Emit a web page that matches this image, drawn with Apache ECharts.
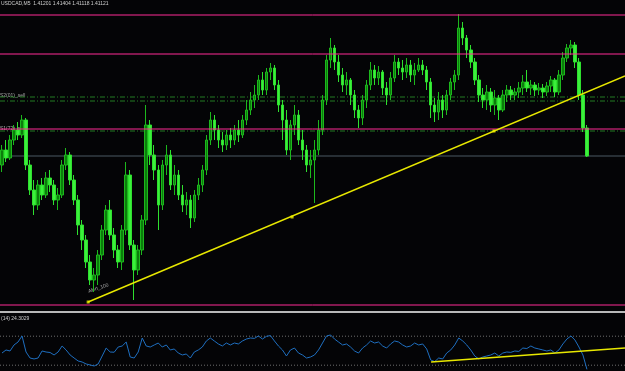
<!DOCTYPE html>
<html><head><meta charset="utf-8">
<script src="https://cdn.jsdelivr.net/npm/echarts@6/dist/echarts.min.js"></script>
<style>html,body{margin:0;padding:0;background:#040406;}#c{width:625px;height:371px;}</style>
</head><body><div id="c"></div><script>
// Candles (price), one per 5-minute bar
const opens = [1.4105,1.4120,1.4112,1.4130,1.4140,1.4135,1.4150,1.4105,1.4080,1.4065,1.4085,1.4075,1.4092,1.4085,1.4070,1.4075,1.4105,1.4115,1.4090,1.4070,
1.4045,1.4030,1.4008,1.3990,1.3995,1.4015,1.4040,1.4060,1.4035,1.4020,1.4008,1.4040,1.4095,1.4025,1.4000,1.4020,1.4050,1.4145,1.4115,1.4100,
1.4065,1.4105,1.4115,1.4085,1.4095,1.4075,1.4065,1.4070,1.4052,1.4075,1.4085,1.4100,1.4130,1.4150,1.4140,1.4130,1.4125,1.4135,1.4130,1.4140,
1.4135,1.4150,1.4160,1.4170,1.4175,1.4190,1.4180,1.4198,1.4202,1.4185,1.4165,1.4150,1.4120,1.4145,1.4155,1.4130,1.4120,1.4105,1.4110,1.4120,
1.4140,1.4170,1.4210,1.4222,1.4208,1.4195,1.4185,1.4190,1.4175,1.4160,1.4152,1.4170,1.4185,1.4200,1.4192,1.4198,1.4182,1.4175,1.4192,1.4208,
1.4202,1.4198,1.4205,1.4195,1.4200,1.4205,1.4200,1.4188,1.4165,1.4158,1.4170,1.4160,1.4175,1.4188,1.4195,1.4242,1.4232,1.4220,1.4208,1.4190,
1.4175,1.4170,1.4178,1.4165,1.4172,1.4160,1.4175,1.4180,1.4175,1.4178,1.4182,1.4188,1.4182,1.4185,1.4180,1.4182,1.4178,1.4184,1.4190,1.4178,
1.4195,1.4212,1.4222,1.4225,1.4208,1.4175,1.4142];
const closes = [1.4120,1.4112,1.4130,1.4140,1.4135,1.4150,1.4105,1.4080,1.4065,1.4085,1.4075,1.4092,1.4085,1.4070,1.4075,1.4105,1.4115,1.4090,1.4070,1.4045,
1.4030,1.4008,1.3990,1.3995,1.4015,1.4040,1.4060,1.4035,1.4020,1.4008,1.4040,1.4095,1.4025,1.4000,1.4020,1.4050,1.4145,1.4115,1.4100,1.4065,
1.4105,1.4115,1.4085,1.4095,1.4075,1.4065,1.4070,1.4052,1.4075,1.4085,1.4100,1.4130,1.4150,1.4140,1.4130,1.4125,1.4135,1.4130,1.4140,1.4135,
1.4150,1.4160,1.4170,1.4175,1.4190,1.4180,1.4198,1.4202,1.4185,1.4165,1.4150,1.4120,1.4145,1.4155,1.4130,1.4120,1.4105,1.4110,1.4120,1.4140,
1.4170,1.4210,1.4222,1.4208,1.4195,1.4185,1.4190,1.4175,1.4160,1.4152,1.4170,1.4185,1.4200,1.4192,1.4198,1.4182,1.4175,1.4192,1.4208,1.4202,
1.4198,1.4205,1.4195,1.4200,1.4205,1.4200,1.4188,1.4165,1.4158,1.4170,1.4160,1.4175,1.4188,1.4195,1.4242,1.4232,1.4220,1.4208,1.4190,1.4175,
1.4170,1.4178,1.4165,1.4172,1.4160,1.4175,1.4180,1.4175,1.4178,1.4182,1.4188,1.4182,1.4185,1.4180,1.4182,1.4178,1.4184,1.4190,1.4178,1.4195,
1.4212,1.4222,1.4225,1.4208,1.4175,1.4142,1.4114];
const lows = [1.4098,1.4108,1.4110,1.4125,1.4130,1.4132,1.4100,1.4075,1.4055,1.4060,1.4070,1.4072,1.4078,1.4065,1.4060,1.4072,1.4100,1.4085,1.4065,1.4035,
1.4020,1.4002,1.3985,1.3978,1.3985,1.4010,1.4035,1.4030,1.4012,1.4002,1.4000,1.4035,1.4020,1.3970,1.3995,1.4015,1.4045,1.4105,1.4090,1.4040,
1.4060,1.4095,1.4080,1.4075,1.4070,1.4058,1.4055,1.4042,1.4048,1.4070,1.4078,1.4095,1.4125,1.4130,1.4122,1.4118,1.4120,1.4122,1.4125,1.4128,
1.4132,1.4145,1.4155,1.4162,1.4170,1.4175,1.4175,1.4190,1.4180,1.4158,1.4130,1.4115,1.4110,1.4135,1.4125,1.4110,1.4098,1.4092,1.4067,1.4115,
1.4135,1.4165,1.4202,1.4200,1.4188,1.4178,1.4175,1.4165,1.4152,1.4142,1.4145,1.4162,1.4180,1.4185,1.4185,1.4175,1.4165,1.4170,1.4188,1.4195,
1.4190,1.4192,1.4188,1.4185,1.4198,1.4195,1.4180,1.4152,1.4148,1.4150,1.4152,1.4155,1.4170,1.4180,1.4190,1.4225,1.4212,1.4202,1.4185,1.4168,
1.4162,1.4160,1.4158,1.4155,1.4150,1.4158,1.4168,1.4170,1.4170,1.4172,1.4175,1.4178,1.4175,1.4174,1.4175,1.4172,1.4174,1.4178,1.4173,1.4175,
1.4190,1.4208,1.4215,1.4202,1.4170,1.4138,1.4113];
const highs = [1.4125,1.4130,1.4135,1.4145,1.4148,1.4155,1.4152,1.4110,1.4090,1.4090,1.4092,1.4098,1.4100,1.4090,1.4082,1.4110,1.4122,1.4118,1.4095,1.4075,
1.4050,1.4035,1.4015,1.4002,1.4020,1.4045,1.4065,1.4070,1.4042,1.4025,1.4045,1.4108,1.4100,1.4030,1.4025,1.4055,1.4165,1.4150,1.4125,1.4105,
1.4110,1.4125,1.4120,1.4105,1.4100,1.4085,1.4078,1.4075,1.4080,1.4092,1.4105,1.4135,1.4158,1.4155,1.4145,1.4138,1.4140,1.4142,1.4145,1.4150,
1.4155,1.4170,1.4178,1.4185,1.4195,1.4198,1.4202,1.4207,1.4205,1.4190,1.4170,1.4160,1.4150,1.4165,1.4160,1.4140,1.4125,1.4120,1.4130,1.4150,
1.4175,1.4215,1.4232,1.4225,1.4215,1.4202,1.4198,1.4192,1.4180,1.4165,1.4175,1.4190,1.4208,1.4205,1.4204,1.4200,1.4188,1.4198,1.4215,1.4212,
1.4210,1.4212,1.4210,1.4207,1.4212,1.4210,1.4204,1.4192,1.4172,1.4178,1.4175,1.4180,1.4192,1.4200,1.4256,1.4248,1.4235,1.4225,1.4212,1.4195,
1.4182,1.4185,1.4182,1.4180,1.4175,1.4180,1.4185,1.4184,1.4182,1.4188,1.4195,1.4200,1.4190,1.4188,1.4187,1.4186,1.4188,1.4194,1.4192,1.4200,
1.4218,1.4226,1.4230,1.4228,1.4212,1.4180,1.4145];
// RSI(14) per bar
const rsiValues = [46.8,51.0,49.6,57.9,62.0,70.3,48.2,39.9,38.6,39.9,49.6,48.2,47.5,44.1,48.2,56.5,51.0,44.1,39.9,35.8,
34.4,31.7,30.3,28.9,31.7,42.7,53.7,48.2,47.9,55.1,56.5,62.0,41.3,39.9,48.2,67.5,56.5,55.1,57.9,60.6,
55.1,57.9,51.0,52.4,46.8,44.1,45.5,39.9,48.2,51.0,55.1,63.4,67.5,63.4,59.3,56.5,60.6,57.9,60.6,59.3,
63.4,66.1,67.5,67.0,70.3,66.1,69.8,70.9,63.4,56.5,51.0,42.7,51.0,53.7,46.8,44.1,39.9,41.3,44.1,51.0,
60.6,70.3,71.7,66.1,62.0,57.9,59.3,55.1,49.6,46.8,53.7,57.9,63.4,60.6,62.0,56.5,53.7,59.3,63.4,62.0,
57.9,55.1,56.5,60.6,57.9,59.3,52.4,37.2,35.0,39.9,38.6,46.8,51.0,57.9,67.5,63.4,57.9,51.0,42.7,38.6,
41.3,42.7,44.1,46.8,42.7,46.8,48.2,47.7,49.6,49.0,53.7,53.0,56.5,53.7,52.4,51.0,49.6,51.0,46.8,51.0,
59.3,66.1,70.3,64.8,55.1,44.1,24.3];
const slotCount = 156;
const categories = Array.from({length: slotCount}, (_, i) => 'bar ' + i);
// Horizontal levels
const magentaLevels = [1.4255, 1.4216, 1.4141, 1.3965];
const greenLevels = [1.4173, 1.4169, 1.4139];
const bidLevel = 1.4114;
const rsiLevels = [70, 30];
// Trend lines (bar index, value)
const trendLine = [[21.5, 1.3968], [155.5, 1.4194]];
const trendAnchors = [[21.5, 1.3968], [72.4, 1.4053], [122.8, 1.4139]];
const rsiTrend = [[107.1, 34.4], [155.5, 53.7]];

const candleData = opens.map((o, i) => [o, closes[i], lows[i], highs[i]]);
const rsiData = rsiValues.map((v, i) => [i, v]);
const xLo = -0.5, xHi = slotCount - 0.5;
const hline = (v, xAxisIndex, yAxisIndex, color, type, z) => ({
  type: 'line', xAxisIndex, yAxisIndex, data: [[xLo, v], [xHi, v]], symbol: 'none', silent: true,
  lineStyle: {color, width: 1, type}, z: z || 1
});

const chart = echarts.init(document.getElementById('c'), null, {renderer: 'canvas'});
const txt = (x, y, s, fill) => ({type: 'text', left: x, top: y, silent: true,
  style: {text: s, fill: fill || '#cfcfcf', font: '5px "Liberation Sans"'}});
chart.setOption({
  animation: false,
  backgroundColor: '#040406',
  grid: [{left: 0, right: 0, top: 0, height: 308}, {left: 0, right: 0, top: 313, height: 58}],
  xAxis: [
    {type: 'category', gridIndex: 0, data: categories, show: false, boundaryGap: true},
    {type: 'value', gridIndex: 0, min: xLo, max: xHi, show: false, splitLine: {show: false}},
    {type: 'value', gridIndex: 1, min: xLo, max: xHi, show: false, splitLine: {show: false}}
  ],
  yAxis: [
    {type: 'value', gridIndex: 0, min: 1.3962, max: 1.4270, show: false, splitLine: {show: false}},
    {type: 'value', gridIndex: 1, min: 22, max: 102, show: false, splitLine: {show: false}}
  ],
  series: [
    ...magentaLevels.map(v => hline(v, 1, 0, '#ff2a95', 'solid', 3)),
    ...greenLevels.map(v => hline(v, 1, 0, '#237a23', [5, 2, 1, 2], 1)),
    hline(bidLevel, 1, 0, '#4a5862', 'solid', 1),
    ...rsiLevels.map(v => hline(v, 2, 1, '#6e6e6e', [1, 2], 1)),
    {type: 'candlestick', xAxisIndex: 0, yAxisIndex: 0, data: candleData, barWidth: 3, z: 2,
      itemStyle: {color: '#0b7d0b', color0: '#3cf03c', borderColor: '#1cb81c', borderColor0: '#2ee02e', borderWidth: 1}
    },
    {type: 'line', xAxisIndex: 1, yAxisIndex: 0, data: trendLine, symbol: 'none',
      lineStyle: {color: '#e8e800', width: 1.5}, z: 5},
    {type: 'scatter', xAxisIndex: 1, yAxisIndex: 0, data: trendAnchors, symbol: 'rect', symbolSize: 3,
      itemStyle: {color: '#f0f000'}, z: 6},
    {type: 'line', xAxisIndex: 2, yAxisIndex: 1, data: rsiData, symbol: 'none', z: 2,
      lineStyle: {color: '#1f6fc0', width: 1}},
    {type: 'line', xAxisIndex: 2, yAxisIndex: 1, data: rsiTrend, symbol: 'none',
      lineStyle: {color: '#e8e800', width: 1.5}, z: 5}
  ],
  graphic: [
    {type: 'rect', left: 0, top: 311, silent: true, shape: {width: 625, height: 2}, style: {fill: '#b8b8b8'}},
    txt(1, 1, 'USDCAD,M5  1.41201 1.41404 1.41118 1.41121'),
    txt(0, 93, 'S2(01)_sell', '#a8a8a8'),
    txt(0, 126, 'S1(72)_sell', '#a8a8a8'),
    txt(1, 316, '(14) 24.3029'),
    {type: 'text', x: 89, y: 294, rotation: 0.33, silent: true,
      style: {text: 'Alert_100', fill: '#a8a8a8', font: '5px "Liberation Sans"', textVerticalAlign: 'bottom'}}
  ]
});
</script></body></html>
